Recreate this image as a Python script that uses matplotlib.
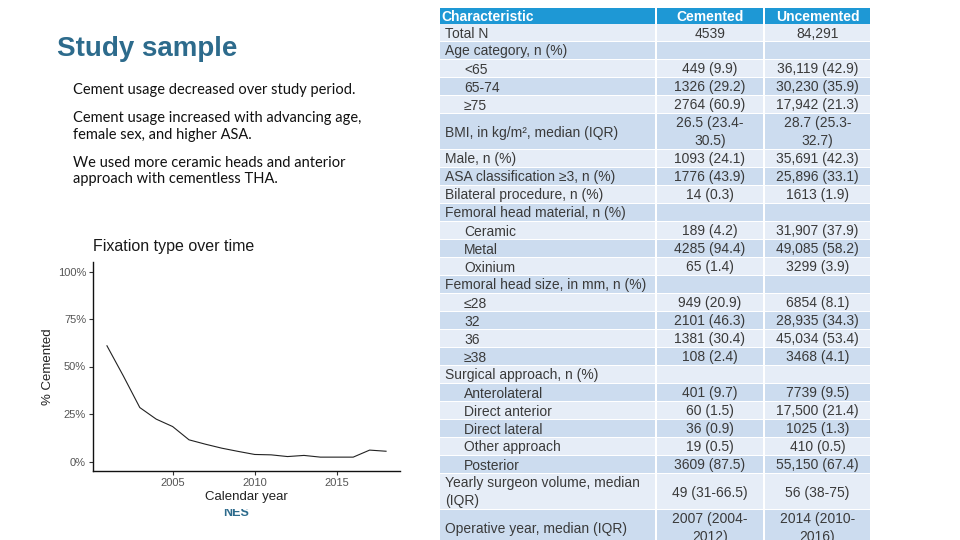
import matplotlib
matplotlib.use("Agg")
import matplotlib.pyplot as plt
from matplotlib.patches import Rectangle
from matplotlib.ticker import FuncFormatter

# ---------------- data ----------------
years = [2001, 2002, 2003, 2004, 2005, 2006, 2007, 2008, 2009,
         2010, 2011, 2012, 2013, 2014, 2015, 2016, 2017, 2018]
pct_cemented = [60.9, 45.0, 28.4, 22.3, 18.4, 11.4, 9.1, 7.0, 5.3,
                3.7, 3.5, 2.6, 3.2, 2.3, 2.3, 2.3, 6.0, 5.4]
y_ticks = [0, 25, 50, 75, 100]
x_ticks = [2005, 2010, 2015]

title_text = "Study sample"
bullets = [
    "Cement usage decreased over study period.",
    "Cement usage increased with advancing age,\nfemale sex, and higher ASA.",
    "We used more ceramic heads and anterior\napproach with cementless THA.",
]

table_header = ["Characteristic", "Cemented", "Uncemented"]
row_labels = [
    "Total N", "Age category, n (%)", "<65", "65-74", "\u226575",
    "BMI, in kg/m\u00b2, median (IQR)", "Male, n (%)",
    "ASA classification \u22653, n (%)", "Bilateral procedure, n (%)",
    "Femoral head material, n (%)", "Ceramic", "Metal", "Oxinium",
    "Femoral head size, in mm, n (%)", "\u226428", "32", "36", "\u226538",
    "Surgical approach, n (%)", "Anterolateral", "Direct anterior",
    "Direct lateral", "Other approach", "Posterior",
    "Yearly surgeon volume, median\n(IQR)", "Operative year, median (IQR)",
]
row_indent = [0, 0, 1, 1, 1, 0, 0, 0, 0, 0, 1, 1, 1, 0, 1, 1, 1, 1,
              0, 1, 1, 1, 1, 1, 0, 0]
cemented = [
    "4539", "", "449 (9.9)", "1326 (29.2)", "2764 (60.9)",
    "26.5 (23.4-\n30.5)", "1093 (24.1)", "1776 (43.9)", "14 (0.3)",
    "", "189 (4.2)", "4285 (94.4)", "65 (1.4)",
    "", "949 (20.9)", "2101 (46.3)", "1381 (30.4)", "108 (2.4)",
    "", "401 (9.7)", "60 (1.5)", "36 (0.9)", "19 (0.5)", "3609 (87.5)",
    "49 (31-66.5)", "2007 (2004-\n2012)",
]
uncemented = [
    "84,291", "", "36,119 (42.9)", "30,230 (35.9)", "17,942 (21.3)",
    "28.7 (25.3-\n32.7)", "35,691 (42.3)", "25,896 (33.1)", "1613 (1.9)",
    "", "31,907 (37.9)", "49,085 (58.2)", "3299 (3.9)",
    "", "6854 (8.1)", "28,935 (34.3)", "45,034 (53.4)", "3468 (4.1)",
    "", "7739 (9.5)", "17,500 (21.4)", "1025 (1.3)", "410 (0.5)", "55,150 (67.4)",
    "56 (38-75)", "2014 (2010-\n2016)",
]
row_lines = [2 if (("\n" in a) or ("\n" in b) or ("\n" in c)) else 1
             for a, b, c in zip(row_labels, cemented, uncemented)]

# ---------------- figure ----------------
W, H = 960, 540
fig = plt.figure(figsize=(W / 100, H / 100), dpi=100)
bg = fig.add_axes([0, 0, 1, 1])
bg.set_xlim(0, W)
bg.set_ylim(H, 0)
bg.axis("off")

# title and bullets
bg.text(57, 49, title_text, fontsize=20, fontweight="bold", color="#2D6B8C",
        family="Liberation Sans", va="center", ha="left")
bullet_y = [90, 126.5, 171]
for yb, txt in zip(bullet_y, bullets):
    bg.text(73, yb, txt, fontsize=10.5, color="#111111", family="Lato",
            va="center", ha="left", linespacing=1.2)

# partially hidden text under chart picture
bg.text(236, 513, "NES", fontsize=9, fontweight="bold", color="#2D6B8C",
        family="Liberation Sans", va="center", ha="center", zorder=1)
bg.add_patch(Rectangle((30, 228), 380, 281, facecolor="white",
                       edgecolor="none", zorder=2))

# ---------------- table ----------------
col_x = [440, 657, 765]
col_w = [215, 106, 105]
header_top, header_h = 8, 15.5
row_h = 18
dark = "#CCDCEF"
light = "#E6EDF7"
text_col = "#3A3A3A"
tf = "Liberation Sans"
fs = 10
base_off = 5.0

for j, h in enumerate(table_header):
    bg.add_patch(Rectangle((col_x[j], header_top), col_w[j], header_h,
                           facecolor="#1E98D5", edgecolor="none", zorder=3))
    yb = header_top + header_h / 2 + base_off
    if j == 0:
        bg.text(col_x[j] + 1.5, yb, h, fontsize=fs, fontweight="bold",
                color="white", family=tf, va="baseline", ha="left", zorder=4)
    else:
        bg.text(col_x[j] + col_w[j] / 2, yb, h, fontsize=fs, fontweight="bold",
                color="white", family=tf, va="baseline", ha="center", zorder=4)

y = header_top + header_h + 0.5
for i, lab in enumerate(row_labels):
    hgt = row_h * row_lines[i]
    color = dark if i % 2 == 1 else light
    for j in range(3):
        bg.add_patch(Rectangle((col_x[j], y), col_w[j], hgt - 1,
                               facecolor=color, edgecolor="none", zorder=3))
    cells = [lab, cemented[i], uncemented[i]]
    for j, cell in enumerate(cells):
        if not cell:
            continue
        lines = cell.split("\n")
        n = len(lines)
        cy = y + hgt / 2 - 0.5
        for k, ln in enumerate(lines):
            ly = cy + (k - (n - 1) / 2) * row_h + base_off
            if j == 0:
                x0 = col_x[0] + 5 + 19 * row_indent[i]
                bg.text(x0, ly, ln, fontsize=fs, color=text_col, family=tf,
                        va="baseline", ha="left", zorder=4)
            else:
                bg.text(col_x[j] + col_w[j] / 2, ly, ln, fontsize=fs,
                        color=text_col, family=tf, va="baseline",
                        ha="center", zorder=4)
    y += hgt

# ---------------- line chart ----------------
left, right, top, bottom = 93, 400, 262, 471
ax = fig.add_axes([left / W, (H - bottom) / H, (right - left) / W,
                   (bottom - top) / H])
ax.patch.set_alpha(0)
ax.plot(years, pct_cemented, color="#222222", lw=0.8)
ax.set_xlim(2000.15, 2018.85)
ax.set_ylim(-5, 105)
ax.set_yticks(y_ticks)
ax.set_xticks(x_ticks)
ax.yaxis.set_major_formatter(FuncFormatter(lambda v, p: f"{int(v)}%"))
for s in ["top", "right"]:
    ax.spines[s].set_visible(False)
for s in ["left", "bottom"]:
    ax.spines[s].set_linewidth(1.0)
    ax.spines[s].set_color("#111111")
ax.tick_params(axis="both", length=3, width=0.8, color="#333333",
               labelcolor="#555555", labelsize=8, pad=2)
for t in ax.get_xticklabels() + ax.get_yticklabels():
    t.set_family("Liberation Sans")
ax.set_xlabel("Calendar year", fontsize=9.5, color="#222222",
              family="Liberation Sans", labelpad=2)
ax.set_ylabel("% Cemented", fontsize=9.5, color="#222222",
              family="Liberation Sans", labelpad=3)
fig.text(93 / W, (H - 247) / H, "Fixation type over time", fontsize=11.5,
         color="#1A1A1A", family="Liberation Sans", va="center", ha="left")

fig.savefig("out.png", dpi=100)
